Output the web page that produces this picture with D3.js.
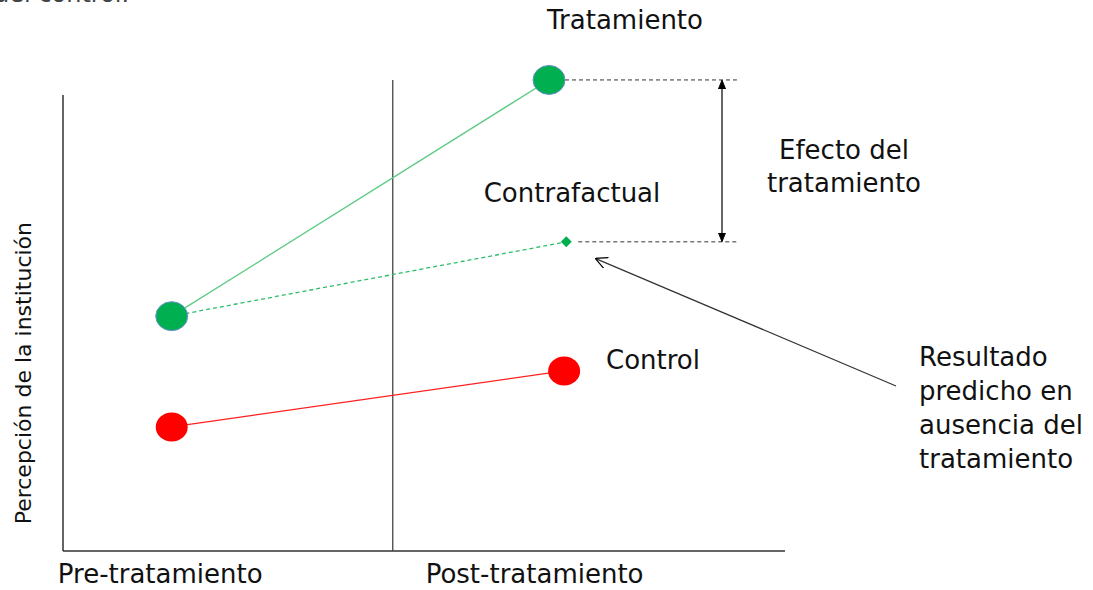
<svg id="svg" width="1093" height="590"></svg>
<script src="https://cdn.jsdelivr.net/npm/d3@7"></script>
<script>
    // periods on x (0-100 scale), perception values on y (0-100 scale)
    var periods = ["Pre-tratamiento", "Post-tratamiento"];
    var periodLabelX = [13.5, 65.5];
    var dividerX = 45.8;

    var treatX = [15.1, 67.5];
    var treatY = [51.5, 103.3];
    var controlX = [15.1, 69.6];
    var controlY = [27.2, 39.5];
    var counterX = [15.1, 69.9];
    var counterY = [51.5, 67.8];

    var yLabel = "Percepción de la institución";
    var notes = ["Resultado", "predicho en", "ausencia del", "tratamiento"];
    var effectLabel = ["Efecto del", "tratamiento"];

    var svg = d3.select("#svg");
    var font = "'DejaVu Sans', sans-serif";

    var x = d3.scaleLinear().domain([0, 100]).range([63, 783]);
    var y = d3.scaleLinear().domain([0, 100]).range([551, 95]);

    svg.append("defs").selectAll("marker")
        .data(["solid", "open"])
        .enter().append("marker")
        .attr("id", function (d) { return "m-" + d; })
        .attr("viewBox", "0 -5 10 10")
        .attr("refX", 9)
        .attr("markerWidth", function (d) { return d == "solid" ? 9 : 12; })
        .attr("markerHeight", function (d) { return d == "solid" ? 9 : 12; })
        .attr("markerUnits", "userSpaceOnUse")
        .attr("orient", "auto-start-reverse")
        .append("path")
        .attr("d", function (d) { return d == "solid" ? "M0,-4L10,0L0,4Z" : "M0,-5L10,0L0,5"; })
        .attr("fill", function (d) { return d == "solid" ? "#000" : "none"; })
        .attr("stroke", "#000")
        .attr("stroke-width", 1);

    // partly cut text at the very top (as in the source slide)
    svg.append("text").attr("x", -6).attr("y", 2)
        .attr("font-family", font).attr("font-size", 24).attr("fill", "#444")
        .text("del control.");

    // axes
    svg.append("path")
        .attr("d", "M" + x(0) + "," + y(0) + "V" + y(100) + "M" + x(0) + "," + y(0) + "H" + (x(100) + 2))
        .attr("fill", "none").attr("stroke", "#333").attr("stroke-width", 1.5);
    svg.append("line")
        .attr("x1", x(dividerX)).attr("x2", x(dividerX))
        .attr("y1", y(0)).attr("y2", y(103.3))
        .attr("stroke", "#444").attr("stroke-width", 1.3);

    // lines
    svg.append("line")
        .attr("x1", x(treatX[0])).attr("y1", y(treatY[0]))
        .attr("x2", x(treatX[1])).attr("y2", y(treatY[1]))
        .attr("stroke", "#5ccb84").attr("stroke-width", 1.3);
    svg.append("line")
        .attr("x1", x(counterX[0])).attr("y1", y(counterY[0]))
        .attr("x2", x(counterX[1])).attr("y2", y(counterY[1]))
        .attr("stroke", "#2dbd68").attr("stroke-width", 1.3)
        .attr("stroke-dasharray", "4,3");
    svg.append("line")
        .attr("x1", x(controlX[0])).attr("y1", y(controlY[0]))
        .attr("x2", x(controlX[1])).attr("y2", y(controlY[1]))
        .attr("stroke", "#ff2020").attr("stroke-width", 1.3);

    // effect guides
    var guideEnd = 93.6;
    svg.append("line")
        .attr("x1", x(treatX[1]) + 16).attr("x2", x(guideEnd))
        .attr("y1", y(treatY[1])).attr("y2", y(treatY[1]))
        .attr("stroke", "#333").attr("stroke-dasharray", "4,3");
    svg.append("line")
        .attr("x1", x(counterX[1]) + 12).attr("x2", x(guideEnd))
        .attr("y1", y(counterY[1])).attr("y2", y(counterY[1]))
        .attr("stroke", "#333").attr("stroke-dasharray", "4,3");
    svg.append("line")
        .attr("x1", 722).attr("x2", 722)
        .attr("y1", y(treatY[1]) + 1).attr("y2", y(counterY[1]) - 1)
        .attr("stroke", "#333").attr("stroke-width", 1.5)
        .attr("marker-start", "url(#m-solid)").attr("marker-end", "url(#m-solid)");

    // annotation arrow
    svg.append("line")
        .attr("x1", 896).attr("y1", 386)
        .attr("x2", x(counterX[1]) + 30).attr("y2", y(counterY[1]) + 17)
        .attr("stroke", "#333").attr("stroke-width", 1.2)
        .attr("marker-end", "url(#m-open)");

    // points
    var pts = [
        { x: treatX[0], y: treatY[0], c: "#00b050" },
        { x: treatX[1], y: treatY[1], c: "#00b050" },
        { x: controlX[0], y: controlY[0], c: "#ff0000" },
        { x: controlX[1], y: controlY[1], c: "#ff0000" }
    ];
    svg.selectAll("ellipse.pt").data(pts).enter().append("ellipse")
        .attr("class", "pt")
        .attr("cx", function (d) { return x(d.x); })
        .attr("cy", function (d) { return y(d.y); })
        .attr("rx", 16).attr("ry", 14.5)
        .attr("fill", function (d) { return d.c; })
        .attr("stroke", function (d) { return d.c == "#00b050" ? "#6f8fd0" : "none"; })
        .attr("stroke-width", 1);
    svg.append("path")
        .attr("d", d3.symbol(d3.symbolSquare, 60)())
        .attr("transform", "translate(" + x(counterX[1]) + "," + y(counterY[1]) + ") rotate(45)")
        .attr("fill", "#00b050");

    // texts
    var txt = svg.append("g").attr("font-family", font).attr("font-size", 26).attr("fill", "#111");
    txt.selectAll("text.period").data(periods).enter().append("text")
        .attr("x", function (d, i) { return x(periodLabelX[i]); })
        .attr("y", 583)
        .attr("text-anchor", "middle")
        .text(function (d) { return d; });
    txt.append("text").attr("x", 625).attr("y", 29).attr("text-anchor", "middle").text("Tratamiento");
    txt.append("text").attr("x", 572).attr("y", 202).attr("text-anchor", "middle").text("Contrafactual");
    txt.append("text").attr("x", 606).attr("y", 369).text("Control");
    txt.selectAll("text.eff").data(effectLabel).enter().append("text")
        .attr("x", 844).attr("y", function (d, i) { return 159 + i * 33; })
        .attr("text-anchor", "middle").text(function (d) { return d; });
    txt.selectAll("text.note").data(notes).enter().append("text")
        .attr("x", 919).attr("y", function (d, i) { return 366 + i * 34; })
        .text(function (d) { return d; });
    txt.append("text")
        .attr("transform", "translate(31," + y(39) + ") rotate(-90)")
        .attr("text-anchor", "middle").attr("font-size", 22)
        .text(yLabel);
</script>
<style>
    html,
    body {
        margin: 0;
        padding: 0;
        background: #fff;
    }
</style>
